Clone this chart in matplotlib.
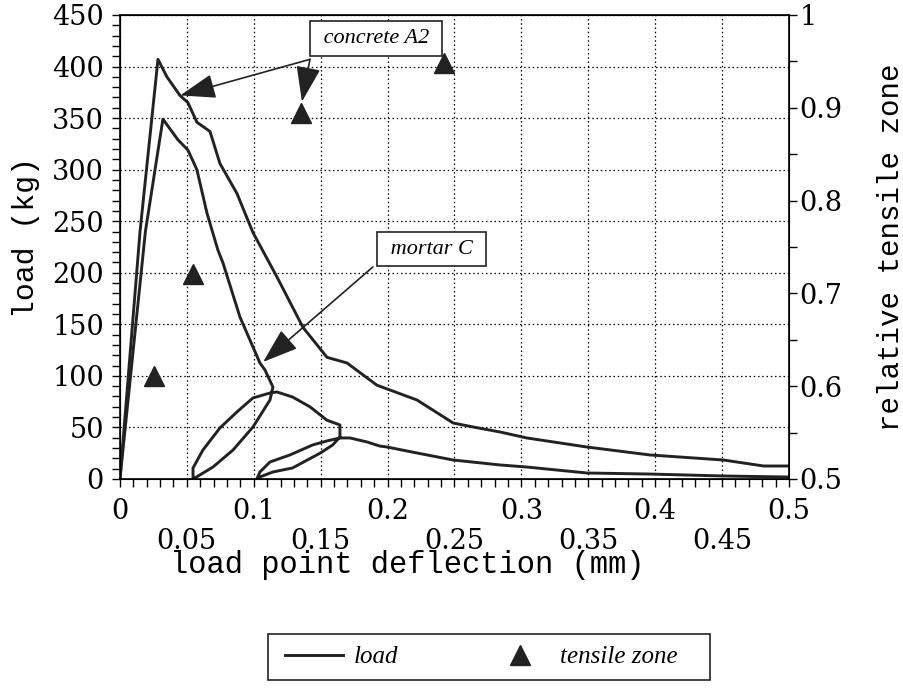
import matplotlib
matplotlib.use("Agg")
import matplotlib.pyplot as plt
from matplotlib.ticker import MultipleLocator, FuncFormatter
from matplotlib.lines import Line2D
from matplotlib.patches import Rectangle

# concrete A2 load-deflection curve (mm, kg)
concrete_x = [0.0, 0.015, 0.0284, 0.0351, 0.0448, 0.0508, 0.0575, 0.0673, 0.0747,
              0.0874, 0.0994, 0.1173, 0.1368, 0.1547, 0.1697, 0.192, 0.222, 0.249,
              0.264, 0.284, 0.304, 0.349, 0.396, 0.451, 0.481, 0.5]
concrete_y = [0, 240, 407, 390, 372, 365, 346, 337, 306,
              277, 239, 196, 147, 118, 112.5, 91, 76.6, 54.3,
              50.4, 45.6, 39.8, 31, 23.3, 18.4, 12.6, 12.6]

# mortar C load-deflection curve with two unload/reload loops
mortar_x = [0.0, 0.019, 0.0321, 0.0433, 0.0508, 0.0575, 0.065, 0.0732, 0.077,
            0.0897, 0.1046, 0.1084, 0.1143,
            0.1121, 0.0994, 0.0845, 0.0695, 0.056, 0.0546,
            0.0546, 0.062, 0.0747, 0.0874, 0.0994, 0.1121, 0.1173, 0.129,
            0.142, 0.1547, 0.1644, 0.1644,
            0.159, 0.1495, 0.129, 0.1143, 0.1046, 0.1024,
            0.1046, 0.1121, 0.127, 0.144, 0.1547, 0.1644, 0.1719, 0.1846,
            0.194, 0.1996, 0.222, 0.249, 0.284, 0.304, 0.349, 0.396, 0.451, 0.5]
mortar_y = [0, 240, 349, 329, 319, 300, 258, 222, 209.5,
            157, 112.5, 105.7, 89.2,
            76.6, 50.4, 28.1, 11.6, 1.0, 0.5,
            10.7, 28.1, 49.5, 65, 78.6, 83.4, 84.4, 79.5,
            70, 57, 52.4, 40.7,
            33, 25, 10.7, 6.8, 2, 0.3,
            6.8, 16.5, 23.3, 33, 36.9, 39.8, 39.8, 35.9,
            32, 31, 25.2, 18.4, 13.6, 11.6, 5.8, 4.8, 2.9, 1.9]

# relative tensile zone points
tz_x = [0.0258, 0.0546, 0.135, 0.242]
tz_y = [0.611, 0.721, 0.894, 0.948]

# annotation boxes and arrow targets
a2_box = (0.1913, 427)
a2_corner = (0.142, 407)
a2_targets = [(0.045, 372), (0.136, 366)]
mc_box = (0.233, 223)
mc_corner = (0.189, 205.6)
mc_target = (0.107, 113.5)

ink = "#222222"
serif = "DejaVu Serif"
mono = "Liberation Mono"
script = "Liberation Serif"

fig = plt.figure(figsize=(9.04, 6.88), dpi=100)
ax = fig.add_axes([0.1327, 0.3038, 0.7401, 0.6744])
ax2 = ax.twinx()

ax.plot(concrete_x, concrete_y, color=ink, lw=2.1, solid_joinstyle="round")
ax.plot(mortar_x, mortar_y, color=ink, lw=2.1, solid_joinstyle="round")
ax2.plot(tz_x, tz_y, ls="none", marker="^", ms=14, color=ink)

ax.set_xlim(0, 0.5)
ax.set_ylim(0, 450)
ax2.set_ylim(0.5, 1.0)

# grid
ax.xaxis.set_major_locator(MultipleLocator(0.05))
ax.xaxis.set_minor_locator(MultipleLocator(0.01))
ax.yaxis.set_major_locator(MultipleLocator(50))
ax.yaxis.set_minor_locator(MultipleLocator(10))
ax.grid(True, which="major", ls=(0, (1.2, 2.2)), color="black", lw=0.9)
ax2.yaxis.set_major_locator(MultipleLocator(0.1))
ax2.yaxis.set_minor_locator(MultipleLocator(0.05))


def xfmt(v, pos):
    s = "%g" % round(v, 3)
    k = int(round(v / 0.05))
    return s if k % 2 == 0 else "\n" + s


ax.xaxis.set_major_formatter(FuncFormatter(xfmt))
ax2.yaxis.set_major_formatter(FuncFormatter(lambda v, p: "%g" % round(v, 2)))

for a in (ax, ax2):
    a.tick_params(which="both", direction="out", length=5.5, width=1,
                  labelsize=19.5, colors="black")
    for lbl in a.get_xticklabels() + a.get_yticklabels():
        lbl.set_family(serif)
ax.tick_params(axis="x", pad=8)
ax.tick_params(axis="y", pad=6)
ax2.tick_params(axis="y", pad=2)
for lbl in ax.get_xticklabels():
    lbl.set_linespacing(1.15)
for s in ax.spines.values():
    s.set_linewidth(1.2)

ax.set_xlabel("load point deflection (mm)", family=mono, fontsize=22)
ax.xaxis.set_label_coords(0.429, -0.152)
ax.set_ylabel("load (kg)", family=mono, fontsize=21.5)
ax.yaxis.set_label_coords(-0.119, 0.52)
ax2.set_ylabel("relative tensile zone", family=mono, fontsize=21, labelpad=25)

# annotations
box = dict(boxstyle="square,pad=0.35", fc="white", ec=ink, lw=1.2)
arrow = dict(arrowstyle="-|>,head_length=1.3,head_width=0.45", color=ink,
             lw=1.2, mutation_scale=17, shrinkA=0, shrinkB=0)
ax.text(*a2_box, " concrete A2 ", family=script, style="italic", fontsize=16,
        ha="center", va="center", bbox=box, zorder=5)
for t in a2_targets:
    ax.annotate("", xy=t, xytext=a2_corner, arrowprops=arrow, zorder=4)
ax.text(*mc_box, " mortar C ", family=script, style="italic", fontsize=16,
        ha="center", va="center", bbox=box, zorder=5)
ax.annotate("", xy=mc_target, xytext=mc_corner, arrowprops=arrow, zorder=4)

# legend, drawn without its own frame inside a plain box
handles = [Line2D([], [], color=ink, lw=2.1),
           Line2D([], [], ls="none", marker="^", ms=14, color=ink)]
leg = fig.legend(handles, ["load", "tensile zone"], loc="center left",
                 bbox_to_anchor=(285 / 904, 1 - 657 / 688), ncol=2,
                 frameon=False, handlelength=2.3, handletextpad=0.45,
                 columnspacing=3.7, borderpad=0, borderaxespad=0,
                 prop={"family": script, "style": "italic", "size": 18})
fig.add_artist(Rectangle((268 / 904, 1 - 680 / 688), 442 / 904, 46 / 688,
                         transform=fig.transFigure, fill=False, ec=ink, lw=1.2))

fig.savefig("out.png", dpi=100)
